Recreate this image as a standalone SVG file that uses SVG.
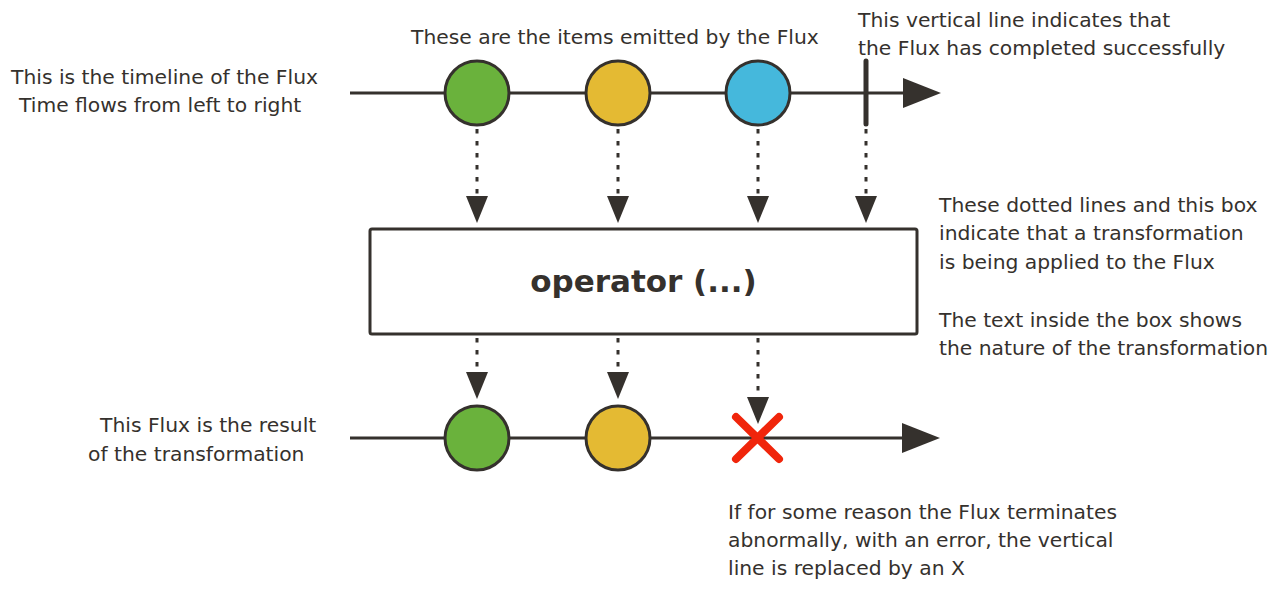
<svg xmlns="http://www.w3.org/2000/svg" width="1287" height="610" viewBox="0 0 1287 610">
  <style>
    .t { font-family: "DejaVu Sans", Verdana, sans-serif; font-size: 20.3px; fill: #35312d; }
    .op { font-family: "DejaVu Sans", Verdana, sans-serif; font-size: 31px; font-weight: bold; fill: #35312d; }
    .tl { stroke: #35312d; stroke-width: 3; fill: none; }
    .dot { stroke: #35312d; stroke-width: 3; fill: none; stroke-dasharray: 4.5 7.5; }
    .item { stroke: #35312d; stroke-width: 3; }
  </style>
  <defs>
    <marker id="big" markerUnits="userSpaceOnUse" markerWidth="39" markerHeight="30" viewBox="0 0 39 30" refX="0" refY="15" orient="auto">
      <path d="M0,0 L38,15 L0,30 z" fill="#35312d"/>
    </marker>
    <marker id="small" markerUnits="userSpaceOnUse" markerWidth="28" markerHeight="22" viewBox="0 0 28 22" refX="0" refY="11" orient="auto">
      <path d="M0,0 L27,11 L0,22 z" fill="#35312d"/>
    </marker>
  </defs>
  <rect width="1287" height="610" fill="#ffffff"/>

  <g id="connectors">
    <line class="tl" x1="350" y1="93" x2="903" y2="93" marker-end="url(#big)"/>
    <line class="tl" x1="350" y1="438" x2="902" y2="438" marker-end="url(#big)"/>
    <line class="dot" x1="477" y1="129" x2="477" y2="196" marker-end="url(#small)"/>
    <line class="dot" x1="618" y1="129" x2="618" y2="196" marker-end="url(#small)"/>
    <line class="dot" x1="758" y1="129" x2="758" y2="196" marker-end="url(#small)"/>
    <line class="dot" x1="866" y1="129" x2="866" y2="196" marker-end="url(#small)"/>
    <line class="dot" x1="477" y1="338" x2="477" y2="372" marker-end="url(#small)"/>
    <line class="dot" x1="618" y1="338" x2="618" y2="372" marker-end="url(#small)"/>
    <line class="dot" x1="758" y1="338" x2="758" y2="397" marker-end="url(#small)"/>
  </g>

  <g id="item-green-top"><circle class="item" cx="477" cy="93" r="32" fill="#6ab23c"/></g>
  <g id="item-yellow-top"><circle class="item" cx="618" cy="93" r="32" fill="#e4ba33"/></g>
  <g id="item-blue-top"><circle class="item" cx="758" cy="93" r="32" fill="#45b8dc"/></g>
  <g id="complete"><line x1="866" y1="61" x2="866" y2="124" stroke="#35312d" stroke-width="5" stroke-linecap="round"/></g>

  <g id="operator">
    <rect x="370" y="229" width="547" height="105" rx="2" fill="#ffffff" stroke="#35312d" stroke-width="3"/>
    <text class="op" x="643.5" y="292" text-anchor="middle">operator (...)</text>
  </g>

  <g id="item-green-bottom"><circle class="item" cx="477" cy="438" r="32" fill="#6ab23c"/></g>
  <g id="item-yellow-bottom"><circle class="item" cx="618" cy="438" r="32" fill="#e4ba33"/></g>
  <g id="error">
    <path d="M736,417 L779,459 M779,417 L736,459" stroke="#f0250b" stroke-width="8" stroke-linecap="round" fill="none"/>
  </g>

  <g id="label-timeline">
    <text class="t" x="11" y="84">This is the timeline of the Flux</text>
    <text class="t" x="19" y="112">Time flows from left to right</text>
  </g>
  <g id="label-items">
    <text class="t" x="411" y="44">These are the items emitted by the Flux</text>
  </g>
  <g id="label-complete">
    <text class="t" x="858" y="27">This vertical line indicates that</text>
    <text class="t" x="858" y="55">the Flux has completed successfully</text>
  </g>
  <g id="label-operator">
    <text class="t" x="939" y="212">These dotted lines and this box</text>
    <text class="t" x="939" y="240">indicate that a transformation</text>
    <text class="t" x="939" y="269">is being applied to the Flux</text>
    <text class="t" x="939" y="327">The text inside the box shows</text>
    <text class="t" x="939" y="355">the nature of the transformation</text>
  </g>
  <g id="label-result">
    <text class="t" x="100" y="432">This Flux is the result</text>
    <text class="t" x="88" y="461">of the transformation</text>
  </g>
  <g id="label-error">
    <text class="t" x="728" y="519">If for some reason the Flux terminates</text>
    <text class="t" x="728" y="547">abnormally, with an error, the vertical</text>
    <text class="t" x="728" y="575">line is replaced by an X</text>
  </g>
</svg>
